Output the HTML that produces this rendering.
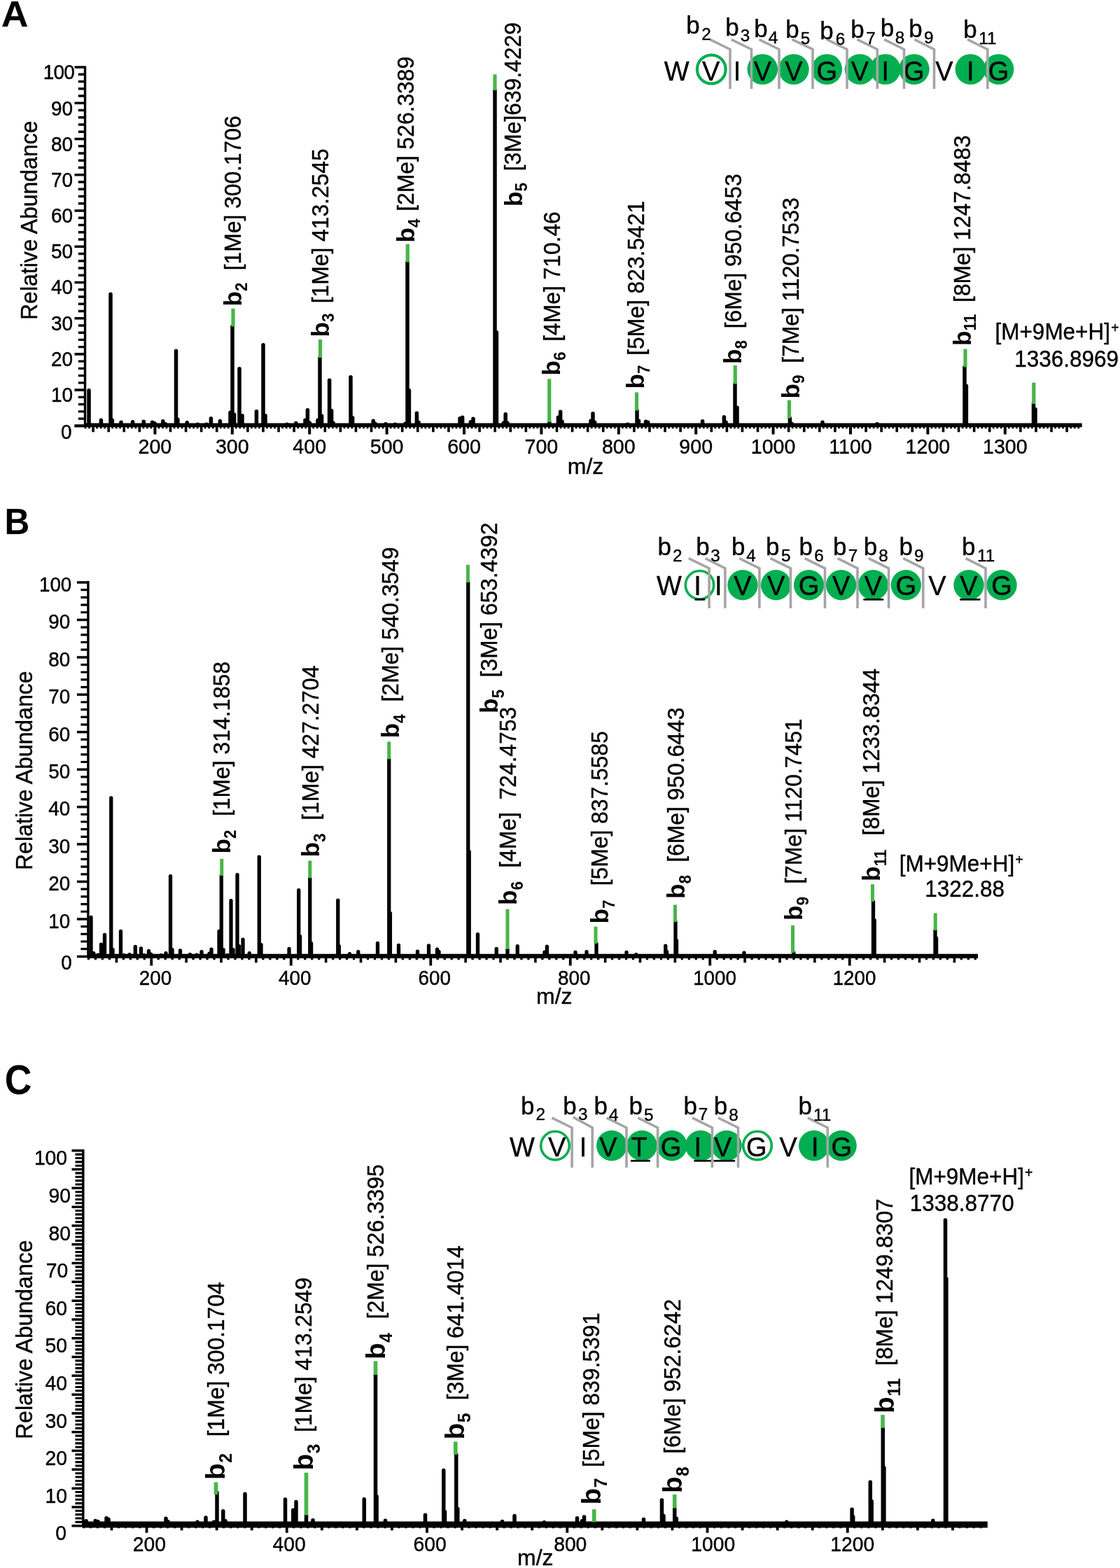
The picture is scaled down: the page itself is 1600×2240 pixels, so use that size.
<!DOCTYPE html>
<html lang="en"><head><meta charset="utf-8"><title>MS/MS spectra</title>
<style>
html,body{margin:0;padding:0;background:#fff;}
body{width:1600px;height:2240px;overflow:hidden;}
svg{display:block;font-family:'Liberation Sans', sans-serif;fill:#000;}
svg text{stroke:#000;stroke-width:.4px;stroke-linejoin:round;}
svg text[font-weight=bold]{stroke-width:0;}
</style></head><body>
<svg width="1600" height="2240" viewBox="0 0 1600 2240">
<rect width="1600" height="2240" fill="#fff"/>
<g id="panel-A">
<text transform="translate(1.66 38.2) scale(1.036 1.0)" font-size="51.8" font-weight="bold">A</text>
<text transform="translate(52.8 457) rotate(-90) scale(1 1.04)" font-size="32">Relative Abundance</text>
<g stroke="#000" fill="none">
<line x1="121.5" y1="94.5" x2="121.5" y2="609.9" stroke-width="3.4"/>
<line x1="121.5" y1="606.8" x2="1545.5" y2="606.8" stroke-width="4.8"/>
<line x1="106.5" y1="608.4" x2="1545.5" y2="608.4" stroke-width="3.6"/>
<path d="M106.5 608.4H121.5M106.5 557.16H121.5M106.5 505.92H121.5M106.5 454.68H121.5M106.5 403.44H121.5M106.5 352.2H121.5M106.5 300.96H121.5M106.5 249.72H121.5M106.5 198.48H121.5M106.5 147.24H121.5M106.5 96H121.5" stroke-width="3.6"/>
<path d="M111.8 598.15H121.5M111.8 587.9H121.5M111.8 577.66H121.5M111.8 567.41H121.5M111.8 546.91H121.5M111.8 536.66H121.5M111.8 526.42H121.5M111.8 516.17H121.5M111.8 495.67H121.5M111.8 485.42H121.5M111.8 475.18H121.5M111.8 464.93H121.5M111.8 444.43H121.5M111.8 434.18H121.5M111.8 423.94H121.5M111.8 413.69H121.5M111.8 393.19H121.5M111.8 382.94H121.5M111.8 372.7H121.5M111.8 362.45H121.5M111.8 341.95H121.5M111.8 331.7H121.5M111.8 321.46H121.5M111.8 311.21H121.5M111.8 290.71H121.5M111.8 280.46H121.5M111.8 270.22H121.5M111.8 259.97H121.5M111.8 239.47H121.5M111.8 229.22H121.5M111.8 218.98H121.5M111.8 208.73H121.5M111.8 188.23H121.5M111.8 177.98H121.5M111.8 167.74H121.5M111.8 157.49H121.5M111.8 136.99H121.5M111.8 126.74H121.5M111.8 116.5H121.5M111.8 106.25H121.5" stroke-width="3.4"/>
<path d="M221.4 608.4V620.4M331.8 608.4V620.4M442.2 608.4V620.4M552.6 608.4V620.4M663 608.4V620.4M773.4 608.4V620.4M883.8 608.4V620.4M994.2 608.4V620.4M1104.6 608.4V620.4M1215 608.4V620.4M1325.4 608.4V620.4M1435.8 608.4V620.4" stroke-width="4.0"/>
<path d="M133.08 608.4V617.2M155.16 608.4V617.2M177.24 608.4V617.2M199.32 608.4V617.2M243.48 608.4V617.2M265.56 608.4V617.2M287.64 608.4V617.2M309.72 608.4V617.2M353.88 608.4V617.2M375.96 608.4V617.2M398.04 608.4V617.2M420.12 608.4V617.2M464.28 608.4V617.2M486.36 608.4V617.2M508.44 608.4V617.2M530.52 608.4V617.2M574.68 608.4V617.2M596.76 608.4V617.2M618.84 608.4V617.2M640.92 608.4V617.2M685.08 608.4V617.2M707.16 608.4V617.2M729.24 608.4V617.2M751.32 608.4V617.2M795.48 608.4V617.2M817.56 608.4V617.2M839.64 608.4V617.2M861.72 608.4V617.2M905.88 608.4V617.2M927.96 608.4V617.2M950.04 608.4V617.2M972.12 608.4V617.2M1016.28 608.4V617.2M1038.36 608.4V617.2M1060.44 608.4V617.2M1082.52 608.4V617.2M1126.68 608.4V617.2M1148.76 608.4V617.2M1170.84 608.4V617.2M1192.92 608.4V617.2M1237.08 608.4V617.2M1259.16 608.4V617.2M1281.24 608.4V617.2M1303.32 608.4V617.2M1347.48 608.4V617.2M1369.56 608.4V617.2M1391.64 608.4V617.2M1413.72 608.4V617.2M1457.88 608.4V617.2M1479.96 608.4V617.2M1502.04 608.4V617.2M1524.12 608.4V617.2" stroke-width="3.6"/>
<path d="M122.04 608.4V612.2M127.56 608.4V612.2M138.6 608.4V612.2M144.12 608.4V612.2M149.64 608.4V612.2M160.68 608.4V612.2M166.2 608.4V612.2M171.72 608.4V612.2M182.76 608.4V612.2M188.28 608.4V612.2M193.8 608.4V612.2M204.84 608.4V612.2M210.36 608.4V612.2M215.88 608.4V612.2M226.92 608.4V612.2M232.44 608.4V612.2M237.96 608.4V612.2M249 608.4V612.2M254.52 608.4V612.2M260.04 608.4V612.2M271.08 608.4V612.2M276.6 608.4V612.2M282.12 608.4V612.2M293.16 608.4V612.2M298.68 608.4V612.2M304.2 608.4V612.2M315.24 608.4V612.2M320.76 608.4V612.2M326.28 608.4V612.2M337.32 608.4V612.2M342.84 608.4V612.2M348.36 608.4V612.2M359.4 608.4V612.2M364.92 608.4V612.2M370.44 608.4V612.2M381.48 608.4V612.2M387 608.4V612.2M392.52 608.4V612.2M403.56 608.4V612.2M409.08 608.4V612.2M414.6 608.4V612.2M425.64 608.4V612.2M431.16 608.4V612.2M436.68 608.4V612.2M447.72 608.4V612.2M453.24 608.4V612.2M458.76 608.4V612.2M469.8 608.4V612.2M475.32 608.4V612.2M480.84 608.4V612.2M491.88 608.4V612.2M497.4 608.4V612.2M502.92 608.4V612.2M513.96 608.4V612.2M519.48 608.4V612.2M525 608.4V612.2M536.04 608.4V612.2M541.56 608.4V612.2M547.08 608.4V612.2M558.12 608.4V612.2M563.64 608.4V612.2M569.16 608.4V612.2M580.2 608.4V612.2M585.72 608.4V612.2M591.24 608.4V612.2M602.28 608.4V612.2M607.8 608.4V612.2M613.32 608.4V612.2M624.36 608.4V612.2M629.88 608.4V612.2M635.4 608.4V612.2M646.44 608.4V612.2M651.96 608.4V612.2M657.48 608.4V612.2M668.52 608.4V612.2M674.04 608.4V612.2M679.56 608.4V612.2M690.6 608.4V612.2M696.12 608.4V612.2M701.64 608.4V612.2M712.68 608.4V612.2M718.2 608.4V612.2M723.72 608.4V612.2M734.76 608.4V612.2M740.28 608.4V612.2M745.8 608.4V612.2M756.84 608.4V612.2M762.36 608.4V612.2M767.88 608.4V612.2M778.92 608.4V612.2M784.44 608.4V612.2M789.96 608.4V612.2M801 608.4V612.2M806.52 608.4V612.2M812.04 608.4V612.2M823.08 608.4V612.2M828.6 608.4V612.2M834.12 608.4V612.2M845.16 608.4V612.2M850.68 608.4V612.2M856.2 608.4V612.2M867.24 608.4V612.2M872.76 608.4V612.2M878.28 608.4V612.2M889.32 608.4V612.2M894.84 608.4V612.2M900.36 608.4V612.2M911.4 608.4V612.2M916.92 608.4V612.2M922.44 608.4V612.2M933.48 608.4V612.2M939 608.4V612.2M944.52 608.4V612.2M955.56 608.4V612.2M961.08 608.4V612.2M966.6 608.4V612.2M977.64 608.4V612.2M983.16 608.4V612.2M988.68 608.4V612.2M999.72 608.4V612.2M1005.24 608.4V612.2M1010.76 608.4V612.2M1021.8 608.4V612.2M1027.32 608.4V612.2M1032.84 608.4V612.2M1043.88 608.4V612.2M1049.4 608.4V612.2M1054.92 608.4V612.2M1065.96 608.4V612.2M1071.48 608.4V612.2M1077 608.4V612.2M1088.04 608.4V612.2M1093.56 608.4V612.2M1099.08 608.4V612.2M1110.12 608.4V612.2M1115.64 608.4V612.2M1121.16 608.4V612.2M1132.2 608.4V612.2M1137.72 608.4V612.2M1143.24 608.4V612.2M1154.28 608.4V612.2M1159.8 608.4V612.2M1165.32 608.4V612.2M1176.36 608.4V612.2M1181.88 608.4V612.2M1187.4 608.4V612.2M1198.44 608.4V612.2M1203.96 608.4V612.2M1209.48 608.4V612.2M1220.52 608.4V612.2M1226.04 608.4V612.2M1231.56 608.4V612.2M1242.6 608.4V612.2M1248.12 608.4V612.2M1253.64 608.4V612.2M1264.68 608.4V612.2M1270.2 608.4V612.2M1275.72 608.4V612.2M1286.76 608.4V612.2M1292.28 608.4V612.2M1297.8 608.4V612.2M1308.84 608.4V612.2M1314.36 608.4V612.2M1319.88 608.4V612.2M1330.92 608.4V612.2M1336.44 608.4V612.2M1341.96 608.4V612.2M1353 608.4V612.2M1358.52 608.4V612.2M1364.04 608.4V612.2M1375.08 608.4V612.2M1380.6 608.4V612.2M1386.12 608.4V612.2M1397.16 608.4V612.2M1402.68 608.4V612.2M1408.2 608.4V612.2M1419.24 608.4V612.2M1424.76 608.4V612.2M1430.28 608.4V612.2M1441.32 608.4V612.2M1446.84 608.4V612.2M1452.36 608.4V612.2M1463.4 608.4V612.2M1468.92 608.4V612.2M1474.44 608.4V612.2M1485.48 608.4V612.2M1491 608.4V612.2M1496.52 608.4V612.2M1507.56 608.4V612.2M1513.08 608.4V612.2M1518.6 608.4V612.2M1529.64 608.4V612.2M1535.16 608.4V612.2M1540.68 608.4V612.2" stroke-width="2.8"/>
</g>
<text transform="translate(102.6 626.8) scale(1 1.06)" font-size="28" text-anchor="end">0</text>
<text transform="translate(104.1 573.85) scale(1 1.06)" font-size="28" text-anchor="end">10</text>
<text transform="translate(104.1 522.7) scale(1 1.06)" font-size="28" text-anchor="end">20</text>
<text transform="translate(104.1 471.55) scale(1 1.06)" font-size="28" text-anchor="end">30</text>
<text transform="translate(104.1 420.4) scale(1 1.06)" font-size="28" text-anchor="end">40</text>
<text transform="translate(104.1 369.25) scale(1 1.06)" font-size="28" text-anchor="end">50</text>
<text transform="translate(104.1 318.1) scale(1 1.06)" font-size="28" text-anchor="end">60</text>
<text transform="translate(104.1 266.95) scale(1 1.06)" font-size="28" text-anchor="end">70</text>
<text transform="translate(104.1 215.8) scale(1 1.06)" font-size="28" text-anchor="end">80</text>
<text transform="translate(104.1 164.65) scale(1 1.06)" font-size="28" text-anchor="end">90</text>
<text transform="translate(106.1 113.3) scale(1 1.06)" font-size="28" text-anchor="end" letter-spacing="-0.8">100</text>
<text transform="translate(221.4 647.5) scale(1 1.06)" font-size="28.6" text-anchor="middle">200</text>
<text transform="translate(331.8 647.5) scale(1 1.06)" font-size="28.6" text-anchor="middle">300</text>
<text transform="translate(442.2 647.5) scale(1 1.06)" font-size="28.6" text-anchor="middle">400</text>
<text transform="translate(552.6 647.5) scale(1 1.06)" font-size="28.6" text-anchor="middle">500</text>
<text transform="translate(663 647.5) scale(1 1.06)" font-size="28.6" text-anchor="middle">600</text>
<text transform="translate(773.4 647.5) scale(1 1.06)" font-size="28.6" text-anchor="middle">700</text>
<text transform="translate(883.8 647.5) scale(1 1.06)" font-size="28.6" text-anchor="middle">800</text>
<text transform="translate(994.2 647.5) scale(1 1.06)" font-size="28.6" text-anchor="middle">900</text>
<text transform="translate(1104.6 647.5) scale(1 1.06)" font-size="28.6" text-anchor="middle">1000</text>
<text transform="translate(1215 647.5) scale(1 1.06)" font-size="28.6" text-anchor="middle">1100</text>
<text transform="translate(1325.4 647.5) scale(1 1.06)" font-size="28.6" text-anchor="middle">1200</text>
<text transform="translate(1435.8 647.5) scale(1 1.06)" font-size="28.6" text-anchor="middle">1300</text>
<text transform="translate(836.5 677)" font-size="32" text-anchor="middle">m/z</text>
<g stroke="#000" stroke-linecap="round" stroke-width="5.5">
<line x1="127" y1="606.8" x2="127" y2="557.75"/>
<line x1="158" y1="606.8" x2="158" y2="420.25"/>
<line x1="251.5" y1="606.8" x2="251.5" y2="501.25"/>
<line x1="332" y1="606.8" x2="332" y2="466.3"/>
<line x1="342" y1="606.8" x2="342" y2="526.75"/>
<line x1="376" y1="606.8" x2="376" y2="492.75"/>
<line x1="457" y1="606.8" x2="457" y2="510.8"/>
<line x1="470.6" y1="606.8" x2="470.6" y2="543.25"/>
<line x1="501" y1="606.8" x2="501" y2="538.75"/>
<line x1="582" y1="606.8" x2="582" y2="374.3"/>
<line x1="707" y1="606.8" x2="707" y2="128.8"/>
<line x1="1050" y1="606.8" x2="1050" y2="548.3"/>
<line x1="1378" y1="606.8" x2="1378" y2="524.3"/>
<line x1="1476.5" y1="606.8" x2="1476.5" y2="576.8"/>
<line x1="144.4" y1="606.8" x2="144.4" y2="600.25"/>
<line x1="160.3" y1="606.8" x2="160.3" y2="600.25"/>
<line x1="173" y1="606.8" x2="173" y2="603.25"/>
<line x1="189.6" y1="606.8" x2="189.6" y2="602.65"/>
<line x1="205.2" y1="606.8" x2="205.2" y2="602.25"/>
<line x1="217.6" y1="606.8" x2="217.6" y2="603.25"/>
<line x1="221" y1="606.8" x2="221" y2="604.65"/>
<line x1="232.8" y1="606.8" x2="232.8" y2="601.85"/>
<line x1="236.4" y1="606.8" x2="236.4" y2="605.85"/>
<line x1="253.8" y1="606.8" x2="253.8" y2="599.25"/>
<line x1="267.2" y1="606.8" x2="267.2" y2="603.85"/>
<line x1="282.4" y1="606.8" x2="282.4" y2="606.25"/>
<line x1="295" y1="606.8" x2="295" y2="606.25"/>
<line x1="301.4" y1="606.8" x2="301.4" y2="597.65"/>
<line x1="314.4" y1="606.8" x2="314.4" y2="601.45"/>
<line x1="329" y1="606.8" x2="329" y2="589.25"/>
<line x1="334.6" y1="606.8" x2="334.6" y2="592.25"/>
<line x1="346" y1="606.8" x2="346" y2="593.65"/>
<line x1="366.4" y1="606.8" x2="366.4" y2="587.65"/>
<line x1="379" y1="606.8" x2="379" y2="593.65"/>
<line x1="410" y1="606.8" x2="410" y2="606.25"/>
<line x1="422.8" y1="606.8" x2="422.8" y2="604.45"/>
<line x1="436" y1="606.8" x2="436" y2="600.25"/>
<line x1="439.4" y1="606.8" x2="439.4" y2="585.85"/>
<line x1="442.4" y1="606.8" x2="442.4" y2="604.25"/>
<line x1="454" y1="606.8" x2="454" y2="600.25"/>
<line x1="459.6" y1="606.8" x2="459.6" y2="594.25"/>
<line x1="473.6" y1="606.8" x2="473.6" y2="586.65"/>
<line x1="476" y1="606.8" x2="476" y2="604.25"/>
<line x1="503.6" y1="606.8" x2="503.6" y2="596.65"/>
<line x1="533.2" y1="606.8" x2="533.2" y2="601.25"/>
<line x1="536" y1="606.8" x2="536" y2="605.25"/>
<line x1="551" y1="606.8" x2="551" y2="605.65"/>
<line x1="564.4" y1="606.8" x2="564.4" y2="606.25"/>
<line x1="579" y1="606.8" x2="579" y2="605.25"/>
<line x1="584.4" y1="606.8" x2="584.4" y2="557.85"/>
<line x1="595.4" y1="606.8" x2="595.4" y2="590.25"/>
<line x1="598" y1="606.8" x2="598" y2="603.25"/>
<line x1="657" y1="606.8" x2="657" y2="597.85"/>
<line x1="660.6" y1="606.8" x2="660.6" y2="596.25"/>
<line x1="672.4" y1="606.8" x2="672.4" y2="602.65"/>
<line x1="676" y1="606.8" x2="676" y2="598.25"/>
<line x1="709.4" y1="606.8" x2="709.4" y2="474.75"/>
<line x1="719.4" y1="606.8" x2="719.4" y2="604.25"/>
<line x1="722.2" y1="606.8" x2="722.2" y2="591.85"/>
<line x1="725" y1="606.8" x2="725" y2="604.25"/>
<line x1="784.8" y1="606.8" x2="784.8" y2="602.8"/>
<line x1="797.4" y1="606.8" x2="797.4" y2="596.25"/>
<line x1="800.6" y1="606.8" x2="800.6" y2="588.25"/>
<line x1="803" y1="606.8" x2="803" y2="602.25"/>
<line x1="844" y1="606.8" x2="844" y2="601.25"/>
<line x1="847" y1="606.8" x2="847" y2="590.65"/>
<line x1="849.6" y1="606.8" x2="849.6" y2="603.25"/>
<line x1="896.6" y1="606.8" x2="896.6" y2="606.25"/>
<line x1="910" y1="606.8" x2="910" y2="586.3"/>
<line x1="912.4" y1="606.8" x2="912.4" y2="601.25"/>
<line x1="922.6" y1="606.8" x2="922.6" y2="602.25"/>
<line x1="925.6" y1="606.8" x2="925.6" y2="603.25"/>
<line x1="1003.6" y1="606.8" x2="1003.6" y2="601.85"/>
<line x1="1034.4" y1="606.8" x2="1034.4" y2="595.85"/>
<line x1="1037" y1="606.8" x2="1037" y2="603.25"/>
<line x1="1053" y1="606.8" x2="1053" y2="582.25"/>
<line x1="1128.4" y1="606.8" x2="1128.4" y2="597.3"/>
<line x1="1131" y1="606.8" x2="1131" y2="605.25"/>
<line x1="1175" y1="606.8" x2="1175" y2="603.25"/>
<line x1="1253" y1="606.8" x2="1253" y2="605.85"/>
<line x1="1380.4" y1="606.8" x2="1380.4" y2="551.25"/>
<line x1="1479" y1="606.8" x2="1479" y2="584.65"/>
</g>
<g stroke="#48b549" stroke-width="5.2">
<line x1="333" y1="440.75" x2="333" y2="466.5"/>
<line x1="457.5" y1="485" x2="457.5" y2="511"/>
<line x1="582.25" y1="348.75" x2="582.25" y2="374.5"/>
<line x1="707" y1="106.25" x2="707" y2="129"/>
<line x1="784.75" y1="541.25" x2="784.75" y2="603"/>
<line x1="909.5" y1="560.5" x2="909.5" y2="586.5"/>
<line x1="1050.25" y1="522" x2="1050.25" y2="548.5"/>
<line x1="1127.45" y1="571.6" x2="1127.45" y2="597.5"/>
<line x1="1379" y1="498.5" x2="1379" y2="524.5"/>
<line x1="1476.8" y1="546.6" x2="1476.8" y2="577"/>
</g>
<text transform="translate(345.2 437.6) rotate(-90) scale(1 0.985)" font-size="35.2" font-weight="bold">b</text>
<text transform="translate(352.75 416.1) rotate(-90) scale(1 1.04)" font-size="22.5" font-weight="bold">2</text>
<text transform="translate(344.3 386.3) rotate(-90) scale(1 1.04)" font-size="31.8" xml:space="preserve">[1Me] 300.1706</text>
<text transform="translate(469.5 481.6) rotate(-90) scale(1 0.985)" font-size="35.2" font-weight="bold">b</text>
<text transform="translate(477.05 460.1) rotate(-90) scale(1 1.04)" font-size="22.5" font-weight="bold">3</text>
<text transform="translate(468.8 433.3) rotate(-90) scale(1 1.04)" font-size="31.8" xml:space="preserve">[1Me] 413.2545</text>
<text transform="translate(592 346.4) rotate(-90) scale(1 0.985)" font-size="35.2" font-weight="bold">b</text>
<text transform="translate(599.55 324.9) rotate(-90) scale(1 1.04)" font-size="22.5" font-weight="bold">4</text>
<text transform="translate(591.3 301.8) rotate(-90) scale(1 1.04)" font-size="31.8" xml:space="preserve">[2Me] 526.3389</text>
<text transform="translate(745.6 295.1) rotate(-90) scale(1 0.985)" font-size="35.2" font-weight="bold">b</text>
<text transform="translate(753.15 273.6) rotate(-90) scale(1 1.04)" font-size="22.5" font-weight="bold">5</text>
<text transform="translate(744.4 244.3) rotate(-90) scale(1 1.04)" font-size="31.8" xml:space="preserve">[3Me]639.4229</text>
<text transform="translate(800.2 536.4) rotate(-90) scale(1 0.985)" font-size="35.2" font-weight="bold">b</text>
<text transform="translate(807.75 514.9) rotate(-90) scale(1 1.04)" font-size="22.5" font-weight="bold">6</text>
<text transform="translate(799.5 487.8) rotate(-90) scale(1 1.04)" font-size="31.8" xml:space="preserve">[4Me] 710.46</text>
<text transform="translate(920.2 555.6) rotate(-90) scale(1 0.985)" font-size="35.2" font-weight="bold">b</text>
<text transform="translate(927.75 534.1) rotate(-90) scale(1 1.04)" font-size="22.5" font-weight="bold">7</text>
<text transform="translate(919.5 507.8) rotate(-90) scale(1 1.04)" font-size="31.8" xml:space="preserve">[5Me] 823.5421</text>
<text transform="translate(1059.4 520.1) rotate(-90) scale(1 0.985)" font-size="35.2" font-weight="bold">b</text>
<text transform="translate(1066.95 498.6) rotate(-90) scale(1 1.04)" font-size="22.5" font-weight="bold">8</text>
<text transform="translate(1058.8 469.3) rotate(-90) scale(1 1.04)" font-size="31.8" xml:space="preserve">[6Me] 950.6453</text>
<text transform="translate(1141.8 569.4) rotate(-90) scale(1 0.985)" font-size="35.2" font-weight="bold">b</text>
<text transform="translate(1149.35 547.9) rotate(-90) scale(1 1.04)" font-size="22.5" font-weight="bold">9</text>
<text transform="translate(1141.1 518.7) rotate(-90) scale(1 1.04)" font-size="31.8" xml:space="preserve">[7Me] 1120.7533</text>
<text transform="translate(1386.8 493.9) rotate(-90) scale(1 0.985)" font-size="35.2" font-weight="bold">b</text>
<text transform="translate(1394.35 472.4) rotate(-90) scale(1 1.04)" font-size="22.5" font-weight="bold">11</text>
<text transform="translate(1386.1 431.9) rotate(-90) scale(1 1.04)" font-size="31.8" xml:space="preserve">[8Me] 1247.8483</text>
<text transform="translate(1421.5 484.8) scale(1 1.04)" font-size="31.5">[M+9Me+H]<tspan font-size="19.5" dx="1.2" dy="-9.6">+</tspan></text>
<text transform="translate(1598 523.5) scale(1 1.04)" font-size="31.5" text-anchor="end">1336.8969</text>
<g>
<circle cx="1089.3" cy="99" r="21.8" fill="#03ae50"/>
<circle cx="1133.9" cy="99" r="21.8" fill="#03ae50"/>
<circle cx="1181.3" cy="99" r="21.8" fill="#03ae50"/>
<circle cx="1228.5" cy="99" r="21.8" fill="#03ae50"/>
<circle cx="1264.7" cy="99" r="21.8" fill="#03ae50"/>
<circle cx="1305.9" cy="99" r="21.8" fill="#03ae50"/>
<circle cx="1386.4" cy="99" r="21.8" fill="#03ae50"/>
<circle cx="1426.6" cy="99" r="21.8" fill="#03ae50"/>
<circle cx="1016.3" cy="99" r="20.4" fill="none" stroke="#03ae50" stroke-width="4.2"/>
</g>
<text transform="translate(966.7 114.6) scale(1 1.04)" font-size="38" text-anchor="middle">W</text>
<text transform="translate(1015.6 114.6) scale(1 1.04)" font-size="38" text-anchor="middle">V</text>
<text transform="translate(1053 114.6) scale(1 1.04)" font-size="38" text-anchor="middle">I</text>
<text transform="translate(1089.3 114.6) scale(1 1.04)" font-size="38" text-anchor="middle">V</text>
<text transform="translate(1133.9 114.6) scale(1 1.04)" font-size="38" text-anchor="middle">V</text>
<text transform="translate(1181.3 114.6) scale(1 1.04)" font-size="38" text-anchor="middle">G</text>
<text transform="translate(1228.5 114.6) scale(1 1.04)" font-size="38" text-anchor="middle">V</text>
<text transform="translate(1264.7 114.6) scale(1 1.04)" font-size="38" text-anchor="middle">I</text>
<text transform="translate(1305.9 114.6) scale(1 1.04)" font-size="38" text-anchor="middle">G</text>
<text transform="translate(1348.9 114.6) scale(1 1.04)" font-size="38" text-anchor="middle">V</text>
<text transform="translate(1386.4 114.6) scale(1 1.04)" font-size="38" text-anchor="middle">I</text>
<text transform="translate(1426.6 114.6) scale(1 1.04)" font-size="38" text-anchor="middle">G</text>
<g stroke="#a5a5a5" stroke-width="3.6" fill="none" stroke-linejoin="miter">
<path d="M1014.3 56.4L1043 70.5V127"/>
<path d="M1044.6 56.4L1073.5 70.5V127"/>
<path d="M1084.4 56.4L1113 70.5V127"/>
<path d="M1131.6 56.4L1161 70.5V127"/>
<path d="M1181.1 56.4L1210 70.5V127"/>
<path d="M1224.6 56.4L1253.3 70.5V127"/>
<path d="M1263.1 56.4L1291.5 70.5V127"/>
<path d="M1306.4 56.4L1334.5 70.5V127"/>
<path d="M1382.1 56.4L1410.8 70.5V127"/>
</g>
<text transform="translate(980.2 47.6)" font-size="35">b</text>
<text transform="translate(1002.3 56.8) scale(1 0.98)" font-size="24.3">2</text>
<text transform="translate(1036.2 50.9)" font-size="35">b</text>
<text transform="translate(1057.8 59.4) scale(1 0.98)" font-size="24.3">3</text>
<text transform="translate(1077.2 52.6)" font-size="35">b</text>
<text transform="translate(1097.8 62) scale(1 0.98)" font-size="24.3">4</text>
<text transform="translate(1122.2 54)" font-size="35">b</text>
<text transform="translate(1143.8 62.6) scale(1 0.98)" font-size="24.3">5</text>
<text transform="translate(1171.2 55.8)" font-size="35">b</text>
<text transform="translate(1193.8 63.8) scale(1 0.98)" font-size="24.3">6</text>
<text transform="translate(1215.2 53.7)" font-size="35">b</text>
<text transform="translate(1237.3 62.5) scale(1 0.98)" font-size="24.3">7</text>
<text transform="translate(1257.7 52.3)" font-size="35">b</text>
<text transform="translate(1278.8 62) scale(1 0.98)" font-size="24.3">8</text>
<text transform="translate(1298.2 52.6)" font-size="35">b</text>
<text transform="translate(1320.1 61.7) scale(1 0.98)" font-size="24.3">9</text>
<text transform="translate(1376.2 53.7)" font-size="35">b</text>
<text transform="translate(1398.3 62.9) scale(1 0.98)" font-size="24.3">11</text>
</g>
<g id="panel-B">
<text transform="translate(6.43 763) scale(0.948 1.0)" font-size="52.3" font-weight="bold">B</text>
<text transform="translate(46.3 1243) rotate(-90) scale(1 1.04)" font-size="32">Relative Abundance</text>
<g stroke="#000" fill="none">
<line x1="125.9" y1="830" x2="125.9" y2="1367.9" stroke-width="3.4"/>
<line x1="125.9" y1="1365.8" x2="1397" y2="1365.8" stroke-width="6.3"/>
<path d="M109.9 1366.4H125.9M109.9 1312.96H125.9M109.9 1259.52H125.9M109.9 1206.08H125.9M109.9 1152.64H125.9M109.9 1099.2H125.9M109.9 1045.76H125.9M109.9 992.32H125.9M109.9 938.88H125.9M109.9 885.44H125.9M109.9 832H125.9" stroke-width="3.5"/>
<path d="M115.4 1355.71H125.9M115.4 1345.02H125.9M115.4 1334.34H125.9M115.4 1323.65H125.9M115.4 1302.27H125.9M115.4 1291.58H125.9M115.4 1280.9H125.9M115.4 1270.21H125.9M115.4 1248.83H125.9M115.4 1238.14H125.9M115.4 1227.46H125.9M115.4 1216.77H125.9M115.4 1195.39H125.9M115.4 1184.7H125.9M115.4 1174.02H125.9M115.4 1163.33H125.9M115.4 1141.95H125.9M115.4 1131.26H125.9M115.4 1120.58H125.9M115.4 1109.89H125.9M115.4 1088.51H125.9M115.4 1077.82H125.9M115.4 1067.14H125.9M115.4 1056.45H125.9M115.4 1035.07H125.9M115.4 1024.38H125.9M115.4 1013.7H125.9M115.4 1003.01H125.9M115.4 981.63H125.9M115.4 970.94H125.9M115.4 960.26H125.9M115.4 949.57H125.9M115.4 928.19H125.9M115.4 917.5H125.9M115.4 906.82H125.9M115.4 896.13H125.9M115.4 874.75H125.9M115.4 864.06H125.9M115.4 853.38H125.9M115.4 842.69H125.9" stroke-width="3.2"/>
<path d="M216.25 1366.4V1379.4M415.75 1366.4V1379.4M615.25 1366.4V1379.4M814.75 1366.4V1379.4M1014.25 1366.4V1379.4M1213.75 1366.4V1379.4" stroke-width="3.8"/>
<path d="M166.38 1366.4V1375.2M266.12 1366.4V1375.2M316 1366.4V1375.2M365.88 1366.4V1375.2M465.62 1366.4V1375.2M515.5 1366.4V1375.2M565.38 1366.4V1375.2M665.12 1366.4V1375.2M715 1366.4V1375.2M764.88 1366.4V1375.2M864.62 1366.4V1375.2M914.5 1366.4V1375.2M964.38 1366.4V1375.2M1064.12 1366.4V1375.2M1114 1366.4V1375.2M1163.88 1366.4V1375.2M1263.62 1366.4V1375.2M1313.5 1366.4V1375.2M1363.38 1366.4V1375.2" stroke-width="3.6"/>
<path d="M126.47 1366.4V1371.3M136.45 1366.4V1371.3M146.43 1366.4V1371.3M156.4 1366.4V1371.3M176.35 1366.4V1371.3M186.32 1366.4V1371.3M196.3 1366.4V1371.3M206.28 1366.4V1371.3M226.22 1366.4V1371.3M236.2 1366.4V1371.3M246.18 1366.4V1371.3M256.15 1366.4V1371.3M276.1 1366.4V1371.3M286.07 1366.4V1371.3M296.05 1366.4V1371.3M306.02 1366.4V1371.3M325.98 1366.4V1371.3M335.95 1366.4V1371.3M345.93 1366.4V1371.3M355.9 1366.4V1371.3M375.85 1366.4V1371.3M385.83 1366.4V1371.3M395.8 1366.4V1371.3M405.77 1366.4V1371.3M425.73 1366.4V1371.3M435.7 1366.4V1371.3M445.68 1366.4V1371.3M455.65 1366.4V1371.3M475.6 1366.4V1371.3M485.57 1366.4V1371.3M495.55 1366.4V1371.3M505.53 1366.4V1371.3M525.48 1366.4V1371.3M535.45 1366.4V1371.3M545.42 1366.4V1371.3M555.4 1366.4V1371.3M575.35 1366.4V1371.3M585.33 1366.4V1371.3M595.3 1366.4V1371.3M605.28 1366.4V1371.3M625.23 1366.4V1371.3M635.2 1366.4V1371.3M645.17 1366.4V1371.3M655.15 1366.4V1371.3M675.1 1366.4V1371.3M685.08 1366.4V1371.3M695.05 1366.4V1371.3M705.03 1366.4V1371.3M724.98 1366.4V1371.3M734.95 1366.4V1371.3M744.93 1366.4V1371.3M754.9 1366.4V1371.3M774.85 1366.4V1371.3M784.83 1366.4V1371.3M794.8 1366.4V1371.3M804.77 1366.4V1371.3M824.73 1366.4V1371.3M834.7 1366.4V1371.3M844.68 1366.4V1371.3M854.65 1366.4V1371.3M874.6 1366.4V1371.3M884.58 1366.4V1371.3M894.55 1366.4V1371.3M904.53 1366.4V1371.3M924.48 1366.4V1371.3M934.45 1366.4V1371.3M944.43 1366.4V1371.3M954.4 1366.4V1371.3M974.35 1366.4V1371.3M984.33 1366.4V1371.3M994.3 1366.4V1371.3M1004.28 1366.4V1371.3M1024.22 1366.4V1371.3M1034.2 1366.4V1371.3M1044.18 1366.4V1371.3M1054.15 1366.4V1371.3M1074.1 1366.4V1371.3M1084.08 1366.4V1371.3M1094.05 1366.4V1371.3M1104.03 1366.4V1371.3M1123.97 1366.4V1371.3M1133.95 1366.4V1371.3M1143.93 1366.4V1371.3M1153.9 1366.4V1371.3M1173.85 1366.4V1371.3M1183.83 1366.4V1371.3M1193.8 1366.4V1371.3M1203.78 1366.4V1371.3M1223.72 1366.4V1371.3M1233.7 1366.4V1371.3M1243.67 1366.4V1371.3M1253.65 1366.4V1371.3M1273.6 1366.4V1371.3M1283.58 1366.4V1371.3M1293.55 1366.4V1371.3M1303.53 1366.4V1371.3M1323.48 1366.4V1371.3M1333.45 1366.4V1371.3M1343.42 1366.4V1371.3M1353.4 1366.4V1371.3M1373.35 1366.4V1371.3M1383.33 1366.4V1371.3M1393.3 1366.4V1371.3" stroke-width="3.3"/>
</g>
<text transform="translate(102.8 1384.6) scale(1 1.06)" font-size="27.8" text-anchor="end">0</text>
<text transform="translate(100.1 1325.76) scale(1 1.06)" font-size="27.8" text-anchor="end">10</text>
<text transform="translate(100.1 1272.32) scale(1 1.06)" font-size="27.8" text-anchor="end">20</text>
<text transform="translate(100.1 1218.88) scale(1 1.06)" font-size="27.8" text-anchor="end">30</text>
<text transform="translate(100.1 1165.44) scale(1 1.06)" font-size="27.8" text-anchor="end">40</text>
<text transform="translate(100.1 1112) scale(1 1.06)" font-size="27.8" text-anchor="end">50</text>
<text transform="translate(100.1 1058.56) scale(1 1.06)" font-size="27.8" text-anchor="end">60</text>
<text transform="translate(100.1 1005.12) scale(1 1.06)" font-size="27.8" text-anchor="end">70</text>
<text transform="translate(100.1 951.68) scale(1 1.06)" font-size="27.8" text-anchor="end">80</text>
<text transform="translate(100.1 898.24) scale(1 1.06)" font-size="27.8" text-anchor="end">90</text>
<text transform="translate(102.3 844.6) scale(1 1.06)" font-size="27.8" text-anchor="end">100</text>
<text transform="translate(221.9 1407) scale(1 1.06)" font-size="27.8" text-anchor="middle">200</text>
<text transform="translate(421.25 1407) scale(1 1.06)" font-size="27.8" text-anchor="middle">400</text>
<text transform="translate(620.75 1407) scale(1 1.06)" font-size="27.8" text-anchor="middle">600</text>
<text transform="translate(820.25 1407) scale(1 1.06)" font-size="27.8" text-anchor="middle">800</text>
<text transform="translate(1021.05 1407) scale(1 1.06)" font-size="27.8" text-anchor="middle">1000</text>
<text transform="translate(1220.55 1407) scale(1 1.06)" font-size="27.8" text-anchor="middle">1200</text>
<text transform="translate(791.8 1434.3)" font-size="32" text-anchor="middle">m/z</text>
<g stroke="#000" stroke-linecap="round" stroke-width="5.3">
<line x1="130" y1="1365.8" x2="130" y2="1310.4"/>
<line x1="133.75" y1="1365.8" x2="133.75" y2="1361.65"/>
<line x1="144.5" y1="1365.8" x2="144.5" y2="1349.15"/>
<line x1="149.5" y1="1365.8" x2="149.5" y2="1335.4"/>
<line x1="158.75" y1="1365.8" x2="158.75" y2="1139.9"/>
<line x1="161" y1="1365.8" x2="161" y2="1356.65"/>
<line x1="172.5" y1="1365.8" x2="172.5" y2="1330.4"/>
<line x1="185" y1="1365.8" x2="185" y2="1363.65"/>
<line x1="193.25" y1="1365.8" x2="193.25" y2="1352.4"/>
<line x1="201.5" y1="1365.8" x2="201.5" y2="1354.9"/>
<line x1="212.5" y1="1365.8" x2="212.5" y2="1358.4"/>
<line x1="237" y1="1365.8" x2="237" y2="1361.65"/>
<line x1="243.5" y1="1365.8" x2="243.5" y2="1251.65"/>
<line x1="246" y1="1365.8" x2="246" y2="1356.65"/>
<line x1="257.5" y1="1365.8" x2="257.5" y2="1357.9"/>
<line x1="271.25" y1="1365.8" x2="271.25" y2="1363.65"/>
<line x1="288" y1="1365.8" x2="288" y2="1359.65"/>
<line x1="302" y1="1365.8" x2="302" y2="1356.15"/>
<line x1="313" y1="1365.8" x2="313" y2="1330.4"/>
<line x1="316.25" y1="1365.8" x2="316.25" y2="1250.8"/>
<line x1="319" y1="1365.8" x2="319" y2="1356.65"/>
<line x1="330" y1="1365.8" x2="330" y2="1286.65"/>
<line x1="333" y1="1365.8" x2="333" y2="1356.65"/>
<line x1="339" y1="1365.8" x2="339" y2="1249.65"/>
<line x1="341.5" y1="1365.8" x2="341.5" y2="1351.65"/>
<line x1="347" y1="1365.8" x2="347" y2="1342.15"/>
<line x1="356.25" y1="1365.8" x2="356.25" y2="1361.65"/>
<line x1="370.25" y1="1365.8" x2="370.25" y2="1224.15"/>
<line x1="373" y1="1365.8" x2="373" y2="1349.65"/>
<line x1="413" y1="1365.8" x2="413" y2="1355.4"/>
<line x1="426.75" y1="1365.8" x2="426.75" y2="1271.65"/>
<line x1="428.6" y1="1365.8" x2="428.6" y2="1337.65"/>
<line x1="442.75" y1="1365.8" x2="442.75" y2="1254.3"/>
<line x1="444.6" y1="1365.8" x2="444.6" y2="1347.65"/>
<line x1="482.75" y1="1365.8" x2="482.75" y2="1286.15"/>
<line x1="484.3" y1="1365.8" x2="484.3" y2="1351.65"/>
<line x1="499.5" y1="1365.8" x2="499.5" y2="1362.65"/>
<line x1="511.75" y1="1365.8" x2="511.75" y2="1359.65"/>
<line x1="539.5" y1="1365.8" x2="539.5" y2="1347.4"/>
<line x1="555.75" y1="1365.8" x2="555.75" y2="1084.3"/>
<line x1="557.4" y1="1365.8" x2="557.4" y2="1304.65"/>
<line x1="569.5" y1="1365.8" x2="569.5" y2="1350.4"/>
<line x1="596.5" y1="1365.8" x2="596.5" y2="1359.15"/>
<line x1="612.5" y1="1365.8" x2="612.5" y2="1350.9"/>
<line x1="624.5" y1="1365.8" x2="624.5" y2="1356.15"/>
<line x1="627" y1="1365.8" x2="627" y2="1359.65"/>
<line x1="668.75" y1="1365.8" x2="668.75" y2="831.8"/>
<line x1="670.2" y1="1365.8" x2="670.2" y2="1216.65"/>
<line x1="682.5" y1="1365.8" x2="682.5" y2="1334.65"/>
<line x1="709.25" y1="1365.8" x2="709.25" y2="1355.4"/>
<line x1="725" y1="1365.8" x2="725" y2="1355.8"/>
<line x1="739.25" y1="1365.8" x2="739.25" y2="1351.65"/>
<line x1="778" y1="1365.8" x2="778" y2="1360.15"/>
<line x1="781.4" y1="1365.8" x2="781.4" y2="1352.15"/>
<line x1="822" y1="1365.8" x2="822" y2="1360.4"/>
<line x1="838" y1="1365.8" x2="838" y2="1359.65"/>
<line x1="852" y1="1365.8" x2="852" y2="1347.8"/>
<line x1="895" y1="1365.8" x2="895" y2="1360.4"/>
<line x1="908.75" y1="1365.8" x2="908.75" y2="1363.65"/>
<line x1="950.75" y1="1365.8" x2="950.75" y2="1351.15"/>
<line x1="952.6" y1="1365.8" x2="952.6" y2="1359.65"/>
<line x1="965" y1="1365.8" x2="965" y2="1316.8"/>
<line x1="966.5" y1="1365.8" x2="966.5" y2="1343.65"/>
<line x1="1021.25" y1="1365.8" x2="1021.25" y2="1359.65"/>
<line x1="1063" y1="1365.8" x2="1063" y2="1361.15"/>
<line x1="1133.75" y1="1365.8" x2="1133.75" y2="1360.8"/>
<line x1="1247.5" y1="1365.8" x2="1247.5" y2="1287.8"/>
<line x1="1249.2" y1="1365.8" x2="1249.2" y2="1314.65"/>
<line x1="1336" y1="1365.8" x2="1336" y2="1328.8"/>
<line x1="1337.6" y1="1365.8" x2="1337.6" y2="1340.15"/>
<line x1="140" y1="1365.8" x2="140" y2="1364.15"/>
<line x1="177" y1="1365.8" x2="177" y2="1364.65"/>
<line x1="206" y1="1365.8" x2="206" y2="1364.65"/>
<line x1="215.6" y1="1365.8" x2="215.6" y2="1363.15"/>
<line x1="230" y1="1365.8" x2="230" y2="1364.65"/>
<line x1="271.6" y1="1365.8" x2="271.6" y2="1363.65"/>
<line x1="281" y1="1365.8" x2="281" y2="1364.15"/>
<line x1="299" y1="1365.8" x2="299" y2="1362.15"/>
<line x1="325" y1="1365.8" x2="325" y2="1364.65"/>
</g>
<g stroke="#48b549" stroke-width="5.0">
<line x1="316.75" y1="1227" x2="316.75" y2="1251"/>
<line x1="442.75" y1="1229.5" x2="442.75" y2="1254.5"/>
<line x1="555.75" y1="1059.5" x2="555.75" y2="1084.5"/>
<line x1="668.4" y1="806.9" x2="668.4" y2="832"/>
<line x1="725" y1="1298.75" x2="725" y2="1356"/>
<line x1="851" y1="1323.75" x2="851" y2="1348"/>
<line x1="964.5" y1="1292.5" x2="964.5" y2="1317"/>
<line x1="1132.5" y1="1322" x2="1132.5" y2="1361"/>
<line x1="1246.5" y1="1263.25" x2="1246.5" y2="1288"/>
<line x1="1336.25" y1="1304.5" x2="1336.25" y2="1329"/>
</g>
<text transform="translate(328.7 1219.6) rotate(-90) scale(1 0.985)" font-size="35.2" font-weight="bold">b</text>
<text transform="translate(337.3 1198.1) rotate(-90) scale(1 1.04)" font-size="22.5" font-weight="bold">2</text>
<text transform="translate(327.8 1166) rotate(-90) scale(1 1.04)" font-size="31.8" xml:space="preserve">[1Me] 314.1858</text>
<text transform="translate(456.4 1224.6) rotate(-90) scale(1 0.985)" font-size="35.2" font-weight="bold">b</text>
<text transform="translate(465 1203.1) rotate(-90) scale(1 1.04)" font-size="22.5" font-weight="bold">3</text>
<text transform="translate(455 1171.8) rotate(-90) scale(1 1.04)" font-size="31.8" xml:space="preserve">[1Me] 427.2704</text>
<text transform="translate(570.4 1054.5) rotate(-90) scale(1 0.985)" font-size="35.2" font-weight="bold">b</text>
<text transform="translate(579 1033) rotate(-90) scale(1 1.04)" font-size="22.5" font-weight="bold">4</text>
<text transform="translate(569 1002.6) rotate(-90) scale(1 1.04)" font-size="31.8" xml:space="preserve">[2Me] 540.3549</text>
<text transform="translate(710.9 1018.9) rotate(-90) scale(1 0.985)" font-size="35.2" font-weight="bold">b</text>
<text transform="translate(719.5 997.4) rotate(-90) scale(1 1.04)" font-size="22.5" font-weight="bold">5</text>
<text transform="translate(709.7 967.6) rotate(-90) scale(1 1.04)" font-size="31.8" xml:space="preserve">[3Me] 653.4392</text>
<text transform="translate(737.9 1293.1) rotate(-90) scale(1 0.985)" font-size="35.2" font-weight="bold">b</text>
<text transform="translate(746.5 1271.6) rotate(-90) scale(1 1.04)" font-size="22.5" font-weight="bold">6</text>
<text transform="translate(736.6 1239.8) rotate(-90) scale(1 1.04)" font-size="31.8" xml:space="preserve">[4Me]  724.4753</text>
<text transform="translate(869.2 1319.6) rotate(-90) scale(1 0.985)" font-size="35.2" font-weight="bold">b</text>
<text transform="translate(877.8 1298.1) rotate(-90) scale(1 1.04)" font-size="22.5" font-weight="bold">7</text>
<text transform="translate(868 1265.3) rotate(-90) scale(1 1.04)" font-size="31.8" xml:space="preserve">[5Me] 837.5585</text>
<text transform="translate(978.2 1283.9) rotate(-90) scale(1 0.985)" font-size="35.2" font-weight="bold">b</text>
<text transform="translate(986.8 1262.4) rotate(-90) scale(1 1.04)" font-size="22.5" font-weight="bold">8</text>
<text transform="translate(977 1231.8) rotate(-90) scale(1 1.04)" font-size="31.8" xml:space="preserve">[6Me] 950.6443</text>
<text transform="translate(1146.4 1315.1) rotate(-90) scale(1 0.985)" font-size="35.2" font-weight="bold">b</text>
<text transform="translate(1155 1293.6) rotate(-90) scale(1 1.04)" font-size="22.5" font-weight="bold">9</text>
<text transform="translate(1145 1262.8) rotate(-90) scale(1 1.04)" font-size="31.8" xml:space="preserve">[7Me] 1120.7451</text>
<text transform="translate(1257.4 1258.9) rotate(-90) scale(1 0.985)" font-size="35.2" font-weight="bold">b</text>
<text transform="translate(1266 1237.4) rotate(-90) scale(1 1.04)" font-size="22.5" font-weight="bold">11</text>
<text transform="translate(1256.2 1193.6) rotate(-90) scale(1 1.04)" font-size="31.8" xml:space="preserve">[8Me] 1233.8344</text>
<text transform="translate(1284.7 1244.5) scale(1 1.04)" font-size="31.5">[M+9Me+H]<tspan font-size="19.5" dx="1.2" dy="-9.6">+</tspan></text>
<text transform="translate(1321.3 1281.3) scale(1 1.04)" font-size="31.5">1322.88</text>
<g>
<circle cx="1061" cy="835.75" r="21.7" fill="#03ae50"/>
<circle cx="1108.6" cy="835.75" r="21.7" fill="#03ae50"/>
<circle cx="1155.6" cy="835.75" r="21.7" fill="#03ae50"/>
<circle cx="1201.7" cy="835.75" r="21.7" fill="#03ae50"/>
<circle cx="1247.4" cy="835.75" r="21.7" fill="#03ae50"/>
<circle cx="1294.3" cy="835.75" r="21.7" fill="#03ae50"/>
<circle cx="1384" cy="835.75" r="21.7" fill="#03ae50"/>
<circle cx="1431" cy="835.75" r="21.7" fill="#03ae50"/>
<circle cx="999.5" cy="835.75" r="20.2" fill="none" stroke="#03ae50" stroke-width="3.6"/>
</g>
<text transform="translate(955.9 850.1) scale(1 1.04)" font-size="38" text-anchor="middle">W</text>
<text transform="translate(996.5 850.1) scale(1 1.04)" font-size="38" text-anchor="middle">I</text>
<text transform="translate(1026.4 850.1) scale(1 1.04)" font-size="38" text-anchor="middle">I</text>
<text transform="translate(1061 850.1) scale(1 1.04)" font-size="38" text-anchor="middle">V</text>
<text transform="translate(1108.6 850.1) scale(1 1.04)" font-size="38" text-anchor="middle">V</text>
<text transform="translate(1155.6 850.1) scale(1 1.04)" font-size="38" text-anchor="middle">G</text>
<text transform="translate(1201.7 850.1) scale(1 1.04)" font-size="38" text-anchor="middle">V</text>
<text transform="translate(1247.4 850.1) scale(1 1.04)" font-size="38" text-anchor="middle">V</text>
<text transform="translate(1294.3 850.1) scale(1 1.04)" font-size="38" text-anchor="middle">G</text>
<text transform="translate(1338.9 850.1) scale(1 1.04)" font-size="38" text-anchor="middle">V</text>
<text transform="translate(1384 850.1) scale(1 1.04)" font-size="38" text-anchor="middle">V</text>
<text transform="translate(1431 850.1) scale(1 1.04)" font-size="38" text-anchor="middle">G</text>
<g stroke="#000" stroke-width="2.7">
<line x1="992.6" y1="856.4" x2="1007.2" y2="856.4"/>
<line x1="1233.4" y1="856.4" x2="1262.3" y2="856.4"/>
<line x1="1371.1" y1="856.4" x2="1400.5" y2="856.4"/>
</g>
<g stroke="#a5a5a5" stroke-width="3.6" fill="none" stroke-linejoin="miter">
<path d="M983.9 797.6L1013.1 811.8V869"/>
<path d="M1007.5 797.6L1035.9 811.8V869"/>
<path d="M1056.2 797.6L1084.9 811.8V869"/>
<path d="M1100.6 797.6L1129.5 811.8V869"/>
<path d="M1149.6 797.6L1178.5 811.8V869"/>
<path d="M1196.6 797.6L1225 811.8V869"/>
<path d="M1240.9 797.6L1269.6 811.8V869"/>
<path d="M1290.3 797.6L1318.8 811.8V869"/>
<path d="M1379.5 797.6L1408 811.8V869"/>
</g>
<text transform="translate(939.6 792.65)" font-size="35">b</text>
<text transform="translate(961 801.7) scale(1 0.98)" font-size="24.3">2</text>
<text transform="translate(994.2 792.65)" font-size="35">b</text>
<text transform="translate(1015.3 801.7) scale(1 0.98)" font-size="24.3">3</text>
<text transform="translate(1045 792.65)" font-size="35">b</text>
<text transform="translate(1066.3 802) scale(1 0.98)" font-size="24.3">4</text>
<text transform="translate(1094 792.65)" font-size="35">b</text>
<text transform="translate(1116 802) scale(1 0.98)" font-size="24.3">5</text>
<text transform="translate(1141.6 792.65)" font-size="35">b</text>
<text transform="translate(1163.2 802) scale(1 0.98)" font-size="24.3">6</text>
<text transform="translate(1190 792.65)" font-size="35">b</text>
<text transform="translate(1211.8 802) scale(1 0.98)" font-size="24.3">7</text>
<text transform="translate(1233.7 792.65)" font-size="35">b</text>
<text transform="translate(1255.2 802) scale(1 0.98)" font-size="24.3">8</text>
<text transform="translate(1284.5 792.65)" font-size="35">b</text>
<text transform="translate(1306 802) scale(1 0.98)" font-size="24.3">9</text>
<text transform="translate(1374.1 792.65)" font-size="35">b</text>
<text transform="translate(1396 802) scale(1 0.98)" font-size="24.3">11</text>
</g>
<g id="panel-C">
<text transform="translate(6.8 1562.7) scale(0.903 1.0)" font-size="59.3" font-weight="bold">C</text>
<text transform="translate(46.3 2056) rotate(-90) scale(1 1.04)" font-size="32">Relative Abundance</text>
<g stroke="#000" fill="none">
<line x1="118.8" y1="1642" x2="118.8" y2="2181.25" stroke-width="3.4"/>
<line x1="118.8" y1="2178" x2="1410.8" y2="2178" stroke-width="9"/>
<path d="M102.5 2179.75H118.8M102.5 2152.95H118.8M102.5 2126.15H118.8M102.5 2099.35H118.8M102.5 2072.55H118.8M102.5 2045.75H118.8M102.5 2018.95H118.8M102.5 1992.15H118.8M102.5 1965.35H118.8M102.5 1938.55H118.8M102.5 1911.75H118.8M102.5 1884.95H118.8M102.5 1858.15H118.8M102.5 1831.35H118.8M102.5 1804.55H118.8M102.5 1777.75H118.8M102.5 1750.95H118.8M102.5 1724.15H118.8M102.5 1697.35H118.8M102.5 1670.55H118.8M102.5 1643.75H118.8" stroke-width="3.5"/>
<path d="M107.5 2174.39H118.8M107.5 2169.03H118.8M107.5 2163.67H118.8M107.5 2158.31H118.8M107.5 2147.59H118.8M107.5 2142.23H118.8M107.5 2136.87H118.8M107.5 2131.51H118.8M107.5 2120.79H118.8M107.5 2115.43H118.8M107.5 2110.07H118.8M107.5 2104.71H118.8M107.5 2093.99H118.8M107.5 2088.63H118.8M107.5 2083.27H118.8M107.5 2077.91H118.8M107.5 2067.19H118.8M107.5 2061.83H118.8M107.5 2056.47H118.8M107.5 2051.11H118.8M107.5 2040.39H118.8M107.5 2035.03H118.8M107.5 2029.67H118.8M107.5 2024.31H118.8M107.5 2013.59H118.8M107.5 2008.23H118.8M107.5 2002.87H118.8M107.5 1997.51H118.8M107.5 1986.79H118.8M107.5 1981.43H118.8M107.5 1976.07H118.8M107.5 1970.71H118.8M107.5 1959.99H118.8M107.5 1954.63H118.8M107.5 1949.27H118.8M107.5 1943.91H118.8M107.5 1933.19H118.8M107.5 1927.83H118.8M107.5 1922.47H118.8M107.5 1917.11H118.8M107.5 1906.39H118.8M107.5 1901.03H118.8M107.5 1895.67H118.8M107.5 1890.31H118.8M107.5 1879.59H118.8M107.5 1874.23H118.8M107.5 1868.87H118.8M107.5 1863.51H118.8M107.5 1852.79H118.8M107.5 1847.43H118.8M107.5 1842.07H118.8M107.5 1836.71H118.8M107.5 1825.99H118.8M107.5 1820.63H118.8M107.5 1815.27H118.8M107.5 1809.91H118.8M107.5 1799.19H118.8M107.5 1793.83H118.8M107.5 1788.47H118.8M107.5 1783.11H118.8M107.5 1772.39H118.8M107.5 1767.03H118.8M107.5 1761.67H118.8M107.5 1756.31H118.8M107.5 1745.59H118.8M107.5 1740.23H118.8M107.5 1734.87H118.8M107.5 1729.51H118.8M107.5 1718.79H118.8M107.5 1713.43H118.8M107.5 1708.07H118.8M107.5 1702.71H118.8M107.5 1691.99H118.8M107.5 1686.63H118.8M107.5 1681.27H118.8M107.5 1675.91H118.8M107.5 1665.19H118.8M107.5 1659.83H118.8M107.5 1654.47H118.8M107.5 1649.11H118.8" stroke-width="3.1"/>
<path d="M209.5 2179.75V2189.75M409.76 2179.75V2189.75M610.02 2179.75V2189.75M810.28 2179.75V2189.75M1010.54 2179.75V2189.75M1210.8 2179.75V2189.75" stroke-width="3.8"/>
<path d="M159.44 2179.75V2186.25M259.56 2179.75V2186.25M309.63 2179.75V2186.25M359.7 2179.75V2186.25M459.83 2179.75V2186.25M509.89 2179.75V2186.25M559.96 2179.75V2186.25M660.09 2179.75V2186.25M710.15 2179.75V2186.25M760.22 2179.75V2186.25M860.35 2179.75V2186.25M910.41 2179.75V2186.25M960.48 2179.75V2186.25M1060.61 2179.75V2186.25M1110.67 2179.75V2186.25M1160.74 2179.75V2186.25M1260.87 2179.75V2186.25M1310.93 2179.75V2186.25M1361 2179.75V2186.25" stroke-width="3.8"/>
<path d="M119.38 2179.75V2183.25M129.4 2179.75V2183.25M139.41 2179.75V2183.25M149.42 2179.75V2183.25M169.45 2179.75V2183.25M179.46 2179.75V2183.25M189.47 2179.75V2183.25M199.49 2179.75V2183.25M219.51 2179.75V2183.25M229.53 2179.75V2183.25M239.54 2179.75V2183.25M249.55 2179.75V2183.25M269.58 2179.75V2183.25M279.59 2179.75V2183.25M289.6 2179.75V2183.25M299.62 2179.75V2183.25M319.64 2179.75V2183.25M329.66 2179.75V2183.25M339.67 2179.75V2183.25M349.68 2179.75V2183.25M369.71 2179.75V2183.25M379.72 2179.75V2183.25M389.73 2179.75V2183.25M399.75 2179.75V2183.25M419.77 2179.75V2183.25M429.79 2179.75V2183.25M439.8 2179.75V2183.25M449.81 2179.75V2183.25M469.84 2179.75V2183.25M479.85 2179.75V2183.25M489.86 2179.75V2183.25M499.88 2179.75V2183.25M519.9 2179.75V2183.25M529.92 2179.75V2183.25M539.93 2179.75V2183.25M549.94 2179.75V2183.25M569.97 2179.75V2183.25M579.98 2179.75V2183.25M589.99 2179.75V2183.25M600.01 2179.75V2183.25M620.03 2179.75V2183.25M630.05 2179.75V2183.25M640.06 2179.75V2183.25M650.07 2179.75V2183.25M670.1 2179.75V2183.25M680.11 2179.75V2183.25M690.12 2179.75V2183.25M700.14 2179.75V2183.25M720.16 2179.75V2183.25M730.18 2179.75V2183.25M740.19 2179.75V2183.25M750.2 2179.75V2183.25M770.23 2179.75V2183.25M780.24 2179.75V2183.25M790.25 2179.75V2183.25M800.27 2179.75V2183.25M820.29 2179.75V2183.25M830.31 2179.75V2183.25M840.32 2179.75V2183.25M850.33 2179.75V2183.25M870.36 2179.75V2183.25M880.37 2179.75V2183.25M890.38 2179.75V2183.25M900.4 2179.75V2183.25M920.42 2179.75V2183.25M930.44 2179.75V2183.25M940.45 2179.75V2183.25M950.46 2179.75V2183.25M970.49 2179.75V2183.25M980.5 2179.75V2183.25M990.51 2179.75V2183.25M1000.53 2179.75V2183.25M1020.55 2179.75V2183.25M1030.57 2179.75V2183.25M1040.58 2179.75V2183.25M1050.59 2179.75V2183.25M1070.62 2179.75V2183.25M1080.63 2179.75V2183.25M1090.64 2179.75V2183.25M1100.66 2179.75V2183.25M1120.68 2179.75V2183.25M1130.7 2179.75V2183.25M1140.71 2179.75V2183.25M1150.72 2179.75V2183.25M1170.75 2179.75V2183.25M1180.76 2179.75V2183.25M1190.77 2179.75V2183.25M1200.79 2179.75V2183.25M1220.81 2179.75V2183.25M1230.83 2179.75V2183.25M1240.84 2179.75V2183.25M1250.85 2179.75V2183.25M1270.88 2179.75V2183.25M1280.89 2179.75V2183.25M1290.9 2179.75V2183.25M1300.92 2179.75V2183.25M1320.94 2179.75V2183.25M1330.96 2179.75V2183.25M1340.97 2179.75V2183.25M1350.98 2179.75V2183.25M1371.01 2179.75V2183.25M1381.02 2179.75V2183.25M1391.03 2179.75V2183.25M1401.05 2179.75V2183.25" stroke-width="3"/>
</g>
<text transform="translate(95 2200.35) scale(1 1.06)" font-size="28.3" text-anchor="end">0</text>
<text transform="translate(96.1 2146.75) scale(1 1.06)" font-size="28.3" text-anchor="end">10</text>
<text transform="translate(96.1 2093.15) scale(1 1.06)" font-size="28.3" text-anchor="end">20</text>
<text transform="translate(96.1 2039.55) scale(1 1.06)" font-size="28.3" text-anchor="end">30</text>
<text transform="translate(96.1 1985.95) scale(1 1.06)" font-size="28.3" text-anchor="end">40</text>
<text transform="translate(96.1 1932.35) scale(1 1.06)" font-size="28.3" text-anchor="end">50</text>
<text transform="translate(96.1 1878.75) scale(1 1.06)" font-size="28.3" text-anchor="end">60</text>
<text transform="translate(97.3 1825.05) scale(1 1.06)" font-size="28.3" text-anchor="end">70</text>
<text transform="translate(101.1 1771.75) scale(1 1.06)" font-size="28.3" text-anchor="end">80</text>
<text transform="translate(101.1 1717.65) scale(1 1.06)" font-size="28.3" text-anchor="end">90</text>
<text transform="translate(96.1 1664.35) scale(1 1.06)" font-size="28.3" text-anchor="end">100</text>
<text transform="translate(213.4 2215.5) scale(1 1.06)" font-size="28.3" text-anchor="middle">200</text>
<text transform="translate(413.1 2215.5) scale(1 1.06)" font-size="28.3" text-anchor="middle">400</text>
<text transform="translate(614.1 2215.5) scale(1 1.06)" font-size="28.3" text-anchor="middle">600</text>
<text transform="translate(814.75 2215.5) scale(1 1.06)" font-size="28.3" text-anchor="middle">800</text>
<text transform="translate(1018.75 2215.5) scale(1 1.06)" font-size="28.3" text-anchor="middle">1000</text>
<text transform="translate(1217.75 2215.5) scale(1 1.06)" font-size="28.3" text-anchor="middle">1200</text>
<text transform="translate(764.75 2236)" font-size="32" text-anchor="middle">m/z</text>
<g stroke="#000" stroke-linecap="round" stroke-width="5.5">
<line x1="123" y1="2178" x2="123" y2="2172.75"/>
<line x1="136.25" y1="2178" x2="136.25" y2="2172.5"/>
<line x1="140" y1="2178" x2="140" y2="2173.75"/>
<line x1="152" y1="2178" x2="152" y2="2168.75"/>
<line x1="155" y1="2178" x2="155" y2="2170.5"/>
<line x1="237" y1="2178" x2="237" y2="2169.25"/>
<line x1="240" y1="2178" x2="240" y2="2173.75"/>
<line x1="282" y1="2178" x2="282" y2="2174.25"/>
<line x1="294" y1="2178" x2="294" y2="2168"/>
<line x1="305.5" y1="2178" x2="305.5" y2="2174.25"/>
<line x1="310" y1="2178" x2="310" y2="2132.55"/>
<line x1="318.75" y1="2178" x2="318.75" y2="2158.75"/>
<line x1="322" y1="2178" x2="322" y2="2172.75"/>
<line x1="350" y1="2178" x2="350" y2="2134.25"/>
<line x1="407.5" y1="2178" x2="407.5" y2="2141.95"/>
<line x1="418.75" y1="2178" x2="418.75" y2="2157.25"/>
<line x1="423" y1="2178" x2="423" y2="2145.5"/>
<line x1="437.5" y1="2178" x2="437.5" y2="2164.3"/>
<line x1="447" y1="2178" x2="447" y2="2171.75"/>
<line x1="520.25" y1="2178" x2="520.25" y2="2141.75"/>
<line x1="536.5" y1="2178" x2="536.5" y2="1963.8"/>
<line x1="538.1" y1="2178" x2="538.1" y2="2137.75"/>
<line x1="550.5" y1="2178" x2="550.5" y2="2172.25"/>
<line x1="607.5" y1="2178" x2="607.5" y2="2164.25"/>
<line x1="633.75" y1="2178" x2="633.75" y2="2100.5"/>
<line x1="635.5" y1="2178" x2="635.5" y2="2159.75"/>
<line x1="651.75" y1="2178" x2="651.75" y2="2077.8"/>
<line x1="653.8" y1="2178" x2="653.8" y2="2155.5"/>
<line x1="663.75" y1="2178" x2="663.75" y2="2172.5"/>
<line x1="717.5" y1="2178" x2="717.5" y2="2173.5"/>
<line x1="735" y1="2178" x2="735" y2="2165.5"/>
<line x1="777.5" y1="2178" x2="777.5" y2="2174.75"/>
<line x1="824.5" y1="2178" x2="824.5" y2="2168.75"/>
<line x1="834.5" y1="2178" x2="834.5" y2="2166.95"/>
<line x1="831.5" y1="2178" x2="831.5" y2="2172.75"/>
<line x1="919.5" y1="2178" x2="919.5" y2="2170.5"/>
<line x1="945.5" y1="2178" x2="945.5" y2="2143"/>
<line x1="948" y1="2178" x2="948" y2="2165.5"/>
<line x1="963.75" y1="2178" x2="963.75" y2="2154.3"/>
<line x1="966.25" y1="2178" x2="966.25" y2="2169.25"/>
<line x1="1123.75" y1="2178" x2="1123.75" y2="2174.25"/>
<line x1="1217.1" y1="2178" x2="1217.1" y2="2156.15"/>
<line x1="1218.7" y1="2178" x2="1218.7" y2="2166.75"/>
<line x1="1243.3" y1="2178" x2="1243.3" y2="2117.25"/>
<line x1="1245.2" y1="2178" x2="1245.2" y2="2144.75"/>
<line x1="1261.3" y1="2178" x2="1261.3" y2="2039.8"/>
<line x1="1262.9" y1="2178" x2="1262.9" y2="2096.75"/>
<line x1="1332.8" y1="2178" x2="1332.8" y2="2172.25"/>
<line x1="1350.5" y1="2178" x2="1350.5" y2="1743.05"/>
<line x1="1351.9" y1="2178" x2="1351.9" y2="1826.75"/>
</g>
<g stroke="#48b549" stroke-width="5.6">
<line x1="308.5" y1="2117.5" x2="308.5" y2="2135"/>
<line x1="437.5" y1="2103.75" x2="437.5" y2="2164.5"/>
<line x1="536.5" y1="1944.5" x2="536.5" y2="1964"/>
<line x1="650.75" y1="2059.5" x2="650.75" y2="2078"/>
<line x1="848.75" y1="2156.25" x2="848.75" y2="2174.5"/>
<line x1="963.75" y1="2135" x2="963.75" y2="2154.5"/>
<line x1="1261" y1="2021.25" x2="1261" y2="2040"/>
</g>
<text transform="translate(321.45 2113.9) rotate(-90) scale(1 0.985)" font-size="38.8" font-weight="bold">b</text>
<text transform="translate(331.05 2089.7) rotate(-90) scale(1 1.04)" font-size="24.8" font-weight="bold">2</text>
<text transform="translate(320 2052.3) rotate(-90) scale(1 1.04)" font-size="31.8" xml:space="preserve">[1Me] 300.1704</text>
<text transform="translate(447.4 2100.6) rotate(-90) scale(1 0.985)" font-size="38.8" font-weight="bold">b</text>
<text transform="translate(457 2076.4) rotate(-90) scale(1 1.04)" font-size="24.8" font-weight="bold">3</text>
<text transform="translate(445.3 2046) rotate(-90) scale(1 1.04)" font-size="31.8" xml:space="preserve">[1Me] 413.2549</text>
<text transform="translate(550.2 1942.1) rotate(-90) scale(1 0.985)" font-size="38.8" font-weight="bold">b</text>
<text transform="translate(559.8 1917.9) rotate(-90) scale(1 1.04)" font-size="24.8" font-weight="bold">4</text>
<text transform="translate(548 1884.3) rotate(-90) scale(1 1.04)" font-size="31.8" xml:space="preserve">[2Me] 526.3395</text>
<text transform="translate(662.8 2056.4) rotate(-90) scale(1 0.985)" font-size="38.8" font-weight="bold">b</text>
<text transform="translate(672.4 2032.2) rotate(-90) scale(1 1.04)" font-size="24.8" font-weight="bold">5</text>
<text transform="translate(661.5 2000.3) rotate(-90) scale(1 1.04)" font-size="31.8" xml:space="preserve">[3Me] 641.4014</text>
<text transform="translate(857.7 2149.4) rotate(-90) scale(1 0.985)" font-size="38.8" font-weight="bold">b</text>
<text transform="translate(867.3 2125.2) rotate(-90) scale(1 1.04)" font-size="24.8" font-weight="bold">7</text>
<text transform="translate(855.7 2096) rotate(-90) scale(1 1.04)" font-size="31.8" xml:space="preserve">[5Me] 839.5391</text>
<text transform="translate(973.9 2133.1) rotate(-90) scale(1 0.985)" font-size="38.8" font-weight="bold">b</text>
<text transform="translate(983.5 2108.9) rotate(-90) scale(1 1.04)" font-size="24.8" font-weight="bold">8</text>
<text transform="translate(972.3 2076.8) rotate(-90) scale(1 1.04)" font-size="31.8" xml:space="preserve">[6Me] 952.6242</text>
<text transform="translate(1276.6 2019) rotate(-90) scale(1 0.985)" font-size="38.8" font-weight="bold">b</text>
<text transform="translate(1286.2 1994.8) rotate(-90) scale(1 1.04)" font-size="24.8" font-weight="bold">11</text>
<text transform="translate(1274.5 1950.9) rotate(-90) scale(1 1.04)" font-size="31.8" xml:space="preserve">[8Me] 1249.8307</text>
<text transform="translate(1298.4 1692) scale(1 1.04)" font-size="31.5">[M+9Me+H]<tspan font-size="19.5" dx="1.2" dy="-9.6">+</tspan></text>
<text transform="translate(1299.8 1730.4) scale(1 1.04)" font-size="31.5">1338.8770</text>
<g>
<circle cx="873.8" cy="1636.6" r="21.8" fill="#03ae50"/>
<circle cx="917" cy="1636.6" r="21.8" fill="#03ae50"/>
<circle cx="960" cy="1636.6" r="21.8" fill="#03ae50"/>
<circle cx="1000.8" cy="1636.6" r="21.8" fill="#03ae50"/>
<circle cx="1038" cy="1636.6" r="21.8" fill="#03ae50"/>
<circle cx="1162.8" cy="1636.6" r="21.8" fill="#03ae50"/>
<circle cx="1202" cy="1636.6" r="21.8" fill="#03ae50"/>
<circle cx="793" cy="1636.6" r="20.3" fill="none" stroke="#03ae50" stroke-width="3.6"/>
<circle cx="1082" cy="1636.6" r="20.3" fill="none" stroke="#03ae50" stroke-width="3.6"/>
</g>
<text transform="translate(745.9 1652) scale(1 1.04)" font-size="38" text-anchor="middle">W</text>
<text transform="translate(795.6 1652) scale(1 1.04)" font-size="38" text-anchor="middle">V</text>
<text transform="translate(833 1652) scale(1 1.04)" font-size="38" text-anchor="middle">I</text>
<text transform="translate(868.9 1652) scale(1 1.04)" font-size="38" text-anchor="middle">V</text>
<text transform="translate(913 1652) scale(1 1.04)" font-size="38" text-anchor="middle">T</text>
<text transform="translate(958.5 1652) scale(1 1.04)" font-size="38" text-anchor="middle">G</text>
<text transform="translate(996.75 1652) scale(1 1.04)" font-size="38" text-anchor="middle">I</text>
<text transform="translate(1032.6 1652) scale(1 1.04)" font-size="38" text-anchor="middle">V</text>
<text transform="translate(1080.75 1652) scale(1 1.04)" font-size="38" text-anchor="middle">G</text>
<text transform="translate(1126.25 1652) scale(1 1.04)" font-size="38" text-anchor="middle">V</text>
<text transform="translate(1164.4 1652) scale(1 1.04)" font-size="38" text-anchor="middle">I</text>
<text transform="translate(1202.4 1652) scale(1 1.04)" font-size="38" text-anchor="middle">G</text>
<g stroke="#000" stroke-width="2.7">
<line x1="901.1" y1="1658.3" x2="928.8" y2="1658.3"/>
<line x1="991.5" y1="1658.3" x2="1016" y2="1658.3"/>
<line x1="1019.5" y1="1658.3" x2="1050.1" y2="1658.3"/>
</g>
<g stroke="#a5a5a5" stroke-width="3.6" fill="none" stroke-linejoin="miter">
<path d="M788.4 1596.9L817.1 1611V1668.1"/>
<path d="M818.9 1595.9L846.2 1611V1668.1"/>
<path d="M866.6 1596.9L895 1611V1668.1"/>
<path d="M911.3 1596.9L939.6 1611V1668.1"/>
<path d="M988.9 1596.9L1017.4 1611V1668.1"/>
<path d="M1026 1596.9L1054.5 1611V1668.1"/>
<path d="M1153.9 1596.9L1182.3 1611V1668.1"/>
</g>
<text transform="translate(744 1592.3)" font-size="35">b</text>
<text transform="translate(765.4 1600.3) scale(1 0.98)" font-size="24.3">2</text>
<text transform="translate(804.3 1592.3)" font-size="35">b</text>
<text transform="translate(825.9 1599.9) scale(1 0.98)" font-size="24.3">3</text>
<text transform="translate(848.6 1592.3)" font-size="35">b</text>
<text transform="translate(870 1600.8) scale(1 0.98)" font-size="24.3">4</text>
<text transform="translate(898.5 1592.3)" font-size="35">b</text>
<text transform="translate(920 1600.8) scale(1 0.98)" font-size="24.3">5</text>
<text transform="translate(976.5 1592.3)" font-size="35">b</text>
<text transform="translate(997.8 1599.9) scale(1 0.98)" font-size="24.3">7</text>
<text transform="translate(1019.7 1592.3)" font-size="35">b</text>
<text transform="translate(1041.3 1600.8) scale(1 0.98)" font-size="24.3">8</text>
<text transform="translate(1140.6 1592.3)" font-size="35">b</text>
<text transform="translate(1162 1600.8) scale(1 0.98)" font-size="24.3">11</text>
</g>
</svg>
</body></html>
